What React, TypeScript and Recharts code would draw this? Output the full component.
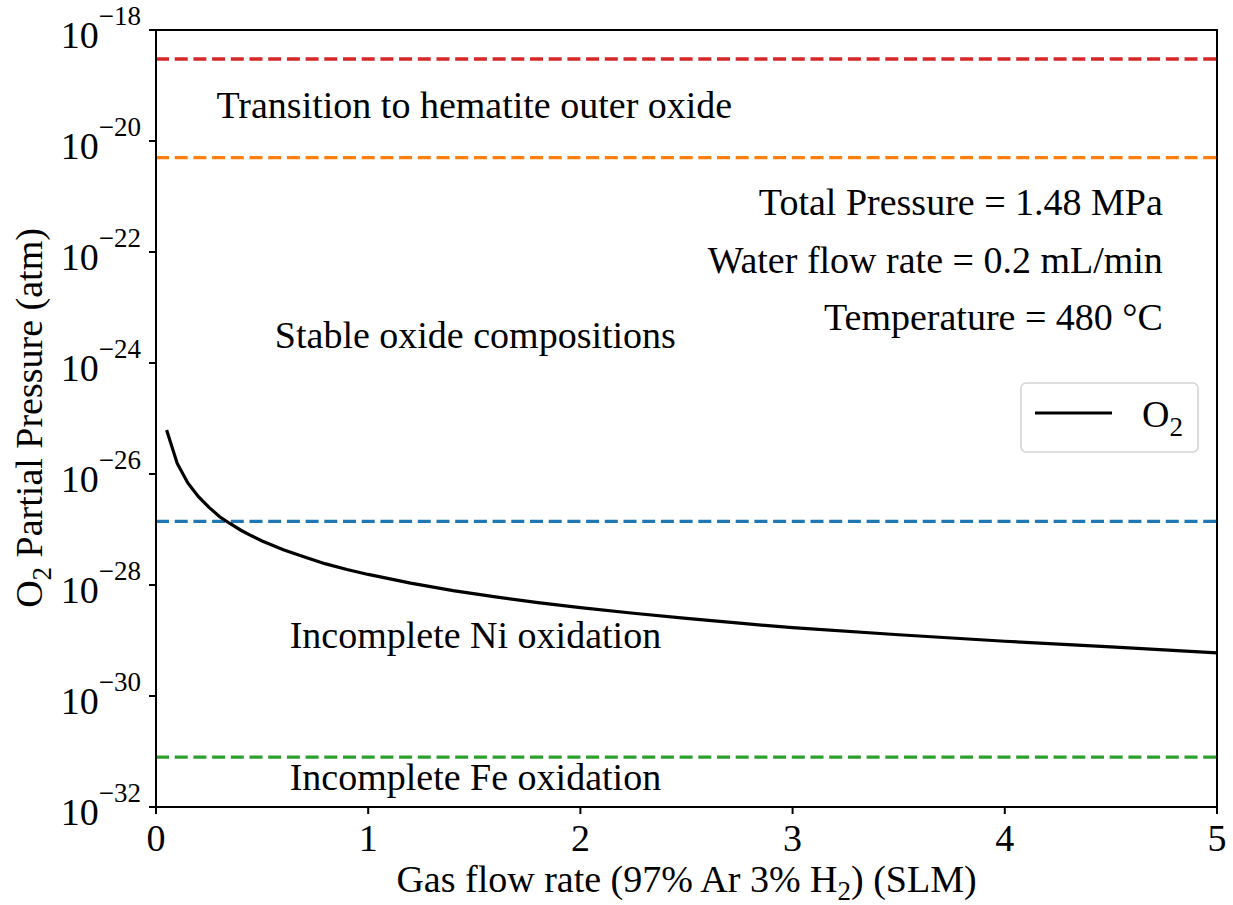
import React from 'react';
import {
  LineChart,
  Line,
  XAxis,
  YAxis,
  ReferenceLine,
  ReferenceArea,
  ReferenceDot,
  Legend,
} from 'recharts';

// Gas flow rate (SLM) and resulting O2 partial pressure (atm)
const flowRates = [
  0.05, 0.1, 0.15, 0.2, 0.25, 0.3, 0.35, 0.4, 0.45, 0.5, 0.6, 0.7, 0.8, 0.9, 1.0,
  1.2, 1.4, 1.6, 1.8, 2.0, 2.25, 2.5, 2.75, 3.0, 3.5, 4.0, 4.5, 5.0,
];
const o2Pressure = [
  6.2e-26, 1.55e-26, 6.9e-27, 3.9e-27, 2.5e-27, 1.7e-27, 1.27e-27, 9.7e-28, 7.7e-28, 6.2e-28,
  4.3e-28, 3.2e-28, 2.4e-28, 1.9e-28, 1.55e-28, 1.08e-28, 7.9e-29, 6.1e-29, 4.8e-29, 3.9e-29,
  3.1e-29, 2.5e-29, 2.05e-29, 1.7e-29, 1.27e-29, 9.7e-30, 7.7e-30, 6.0e-30,
];

// Oxidation thresholds (atm): hematite, upper stable limit, Ni, Fe
const thresholdValues = [3e-19, 5e-21, 1.4e-27, 7.9e-32];
const thresholdColors = ['#d62728', '#ff7f0e', '#1f77b4', '#2ca02c'];

const xTicks = [0, 1, 2, 3, 4, 5];
const yTicks = [1e-32, 1e-30, 1e-28, 1e-26, 1e-24, 1e-22, 1e-20, 1e-18];

// Region labels, left-aligned at (flow, pressure)
const regionLabels = ['Transition to hematite outer oxide', 'Stable oxide compositions', 'Incomplete Ni oxidation', 'Incomplete Fe oxidation'];
const regionAnchorsX = [0.285, 0.56, 0.63, 0.63];
const regionAnchorsY = [2.57e-20, 1.9e-24, 7.4e-30, 2.04e-32];

// Operating conditions, right-aligned at (flow, pressure)
const conditionLabels = ['Total Pressure = 1.48 MPa', 'Water flow rate = 0.2 mL/min', 'Temperature = 480 \u00B0C'];
const conditionAnchorsX = [4.745, 4.745, 4.745];
const conditionAnchorsY = [4.6e-22, 4.19e-23, 3.9e-24];

const chartData = flowRates.map((flow, i) => ({ flow, o2: o2Pressure[i] }));

const FONT = '"Liberation Serif", "Times New Roman", serif';
const FS = 38;
const SUB = 27;
const textStyle = { fontFamily: FONT };

const YTick = (props: any) => {
  const { x, y, payload } = props;
  const exp = Math.round(Math.log10(payload.value));
  return (
    <text x={x - 6} y={y + 18} textAnchor="end" fontFamily={FONT} style={textStyle} fontSize={FS} fill="#000">
      10
      <tspan dy={-23} fontSize={SUB}>{'\u2212' + Math.abs(exp)}</tspan>
    </text>
  );
};

const XTick = (props: any) => {
  const { x, y, payload } = props;
  return (
    <text x={x} y={y + 35} textAnchor="middle" fontFamily={FONT} style={textStyle} fontSize={FS} fill="#000">
      {payload.value}
    </text>
  );
};

const textShape = (text: string, anchor: 'start' | 'end') => (p: any) => (
  <text x={p.cx} y={p.cy} textAnchor={anchor} fontFamily={FONT} style={textStyle} fontSize={FS} fill="#000">
    {text}
  </text>
);

const LegendBox = (props: any) => {
  const entry = (props.payload && props.payload[0]) || { color: '#000' };
  return (
    <svg width={179} height={71} style={{ display: 'block' }}>
      <rect x={1} y={1} width={177} height={69} rx={5} ry={5} fill="#fff" fillOpacity={0.8} stroke="#d4d4d4" strokeWidth={1.6} />
      <line x1={15} x2={92} y1={31} y2={31} stroke={entry.color} strokeWidth={3.2} />
      <text x={122} y={45} fontFamily={FONT} style={textStyle} fontSize={FS} fill="#000">
        O<tspan dy={9} fontSize={SUB}>2</tspan>
      </text>
    </svg>
  );
};

export default function App() {
  return (
    <div style={{ position: 'absolute', left: 0, top: 0, width: 1233, height: 905, background: '#fff', fontFamily: FONT }}>
      <LineChart width={1233} height={905} data={chartData} margin={{ top: 30, right: 16, bottom: 38, left: 56 }}>
        <XAxis
          dataKey="flow"
          type="number"
          domain={[0, 5]}
          ticks={xTicks}
          allowDataOverflow
          height={60}
          tickSize={7}
          tickMargin={2}
          axisLine={{ stroke: '#000', strokeWidth: 2 }}
          tickLine={{ stroke: '#000', strokeWidth: 2 }}
          tick={<XTick />}
          label={{
            content: () => (
              <text x={686.5} y={892} textAnchor="middle" fontFamily={FONT} style={textStyle} fontSize={FS} fill="#000">
                Gas flow rate (97% Ar 3% H<tspan dy={8} fontSize={SUB}>2</tspan>
                <tspan dy={-8}>) (SLM)</tspan>
              </text>
            ),
          }}
        />
        <YAxis
          type="number"
          scale="log"
          domain={[1e-32, 1e-18]}
          ticks={yTicks}
          allowDataOverflow
          width={100}
          tickSize={7}
          tickMargin={2}
          axisLine={{ stroke: '#000', strokeWidth: 2 }}
          tickLine={{ stroke: '#000', strokeWidth: 2 }}
          tick={<YTick />}
          label={{
            content: () => (
              <text transform="translate(42,418) rotate(-90)" textAnchor="middle" fontFamily={FONT} style={textStyle} fontSize={FS} fill="#000">
                O<tspan dy={9} fontSize={SUB}>2</tspan>
                <tspan dy={-9}> Partial Pressure (atm)</tspan>
              </text>
            ),
          }}
        />
        {thresholdValues.map((v, i) => (
          <ReferenceLine key={'t' + i} y={v} stroke={thresholdColors[i]} strokeWidth={3.3} strokeDasharray="13 5.7" />
        ))}
        {regionLabels.map((t, i) => (
          <ReferenceDot key={'r' + i} x={regionAnchorsX[i]} y={regionAnchorsY[i]} r={0} shape={textShape(t, 'start')} />
        ))}
        {conditionLabels.map((t, i) => (
          <ReferenceDot key={'c' + i} x={conditionAnchorsX[i]} y={conditionAnchorsY[i]} r={0} shape={textShape(t, 'end')} />
        ))}
        <ReferenceArea x1={0} x2={5} y1={1e-32} y2={1e-18} fill="none" stroke="#000" strokeWidth={2} />
        <Line
          type="linear"
          dataKey="o2"
          name="O2"
          stroke="#000"
          strokeWidth={3.2}
          dot={false}
          isAnimationActive={false}
        />
        <Legend
          layout="horizontal"
          verticalAlign="middle"
          align="center"
          content={<LegendBox />}
          wrapperStyle={{ position: 'absolute', left: 1020, top: 382, width: 179, height: 71 }}
        />
      </LineChart>
    </div>
  );
}
